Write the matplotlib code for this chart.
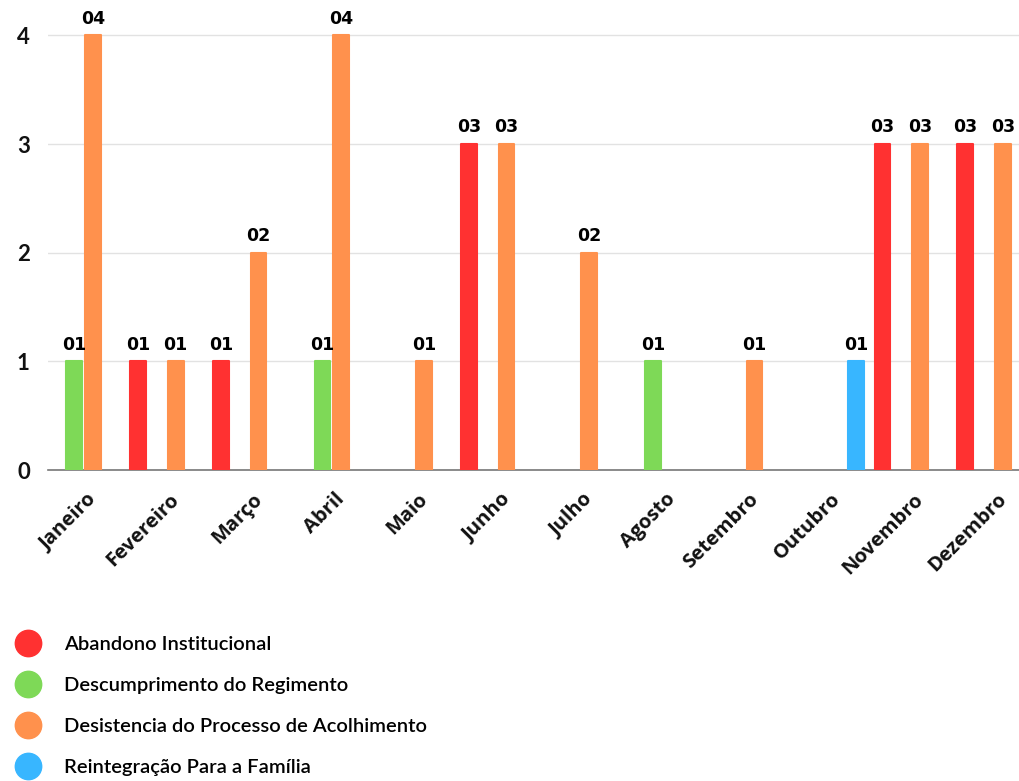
import numpy as np
import matplotlib
matplotlib.use("Agg")
from matplotlib import pyplot as plt
from matplotlib.lines import Line2D
import matplotlib.transforms as mtransforms

# data
meses = ["Janeiro", "Fevereiro", "Março", "Abril", "Maio", "Junho",
         "Julho", "Agosto", "Setembro", "Outubro", "Novembro", "Dezembro"]
abandono = [0, 1, 1, 0, 0, 3, 0, 0, 0, 0, 3, 3]
descumprimento = [1, 0, 0, 1, 0, 0, 0, 1, 0, 0, 0, 0]
desistencia = [4, 1, 2, 4, 1, 3, 2, 0, 1, 0, 3, 3]
reintegracao = [0, 0, 0, 0, 0, 0, 0, 0, 0, 1, 0, 0]

series = ["Abandono Institucional", "Descumprimento do Regimento",
          "Desistencia do Processo de Acolhimento", "Reintegração Para a Família"]
valores = [abandono, descumprimento, desistencia, reintegracao]
cores = ["#FF3131", "#7ED957", "#FF914D", "#38B6FF"]

plt.rcParams['font.family'] = ['Open Sans', 'DejaVu Sans']

fig = plt.figure(figsize=(10.19, 7.81), dpi=100)
ax = fig.add_axes([0.047, 0.398, 0.953, 0.602])

x = np.arange(len(meses))
passo = 0.226
largura = 0.19

for i, (nome, vals, cor) in enumerate(zip(series, valores, cores)):
    vals = np.array(vals)
    pos = x + (i - 1.5) * passo
    m = vals > 0
    ax.bar(pos[m], vals[m], width=largura, color=cor, edgecolor=cor,
           linewidth=1.5, joinstyle='round', zorder=3)
    for px, v in zip(pos[m], vals[m]):
        ax.annotate("%02d" % v, (px, v), xytext=(0, 12), textcoords="offset points",
                    ha="center", va="center", fontsize=12.5, fontweight="bold",
                    family="DejaVu Sans", color="black", zorder=4)

ax.set_xlim(-0.432, 11.31)
ax.set_ylim(0, 4.325)
ax.set_yticks([0, 1, 2, 3, 4])
ax.set_yticklabels(["0", "1", "2", "3", "4"])
ax.yaxis.grid(True, color="#e2e2e2", linewidth=1, zorder=0)
ax.set_axisbelow(True)
for s in ["left", "top", "right"]:
    ax.spines[s].set_visible(False)
ax.spines["bottom"].set_color("#777777")
ax.spines["bottom"].set_linewidth(1.2)
ax.tick_params(axis="both", length=0, colors="#111111")
ax.tick_params(axis="y", pad=13, labelsize=16)
for lab in ax.get_yticklabels():
    lab.set_family(["Lato", "DejaVu Sans"])
    lab.set_fontweight("bold")

ax.set_xticks(x)
ax.set_xticklabels(meses, rotation=45, ha="right", rotation_mode="anchor",
                   fontsize=14.5, fontweight="bold")
ax.tick_params(axis="x", pad=14)
desloc = mtransforms.ScaledTranslation(3 / 100, 0, fig.dpi_scale_trans)
for lab in ax.get_xticklabels():
    lab.set_transform(lab.get_transform() + desloc)

handles = [Line2D([0], [0], marker="o", linestyle="", markersize=19,
                  markerfacecolor=c, markeredgecolor=c) for c in cores]
fig.legend(handles, series, loc="upper left", bbox_to_anchor=(0.0054, 0.1966),
           frameon=False, labelspacing=1.19, handletextpad=1.1, handlelength=1.4,
           borderaxespad=0,
           prop={"family": ["Lato", "DejaVu Sans"], "weight": "semibold", "size": 14.5})

fig.savefig("out.png", dpi=100)
